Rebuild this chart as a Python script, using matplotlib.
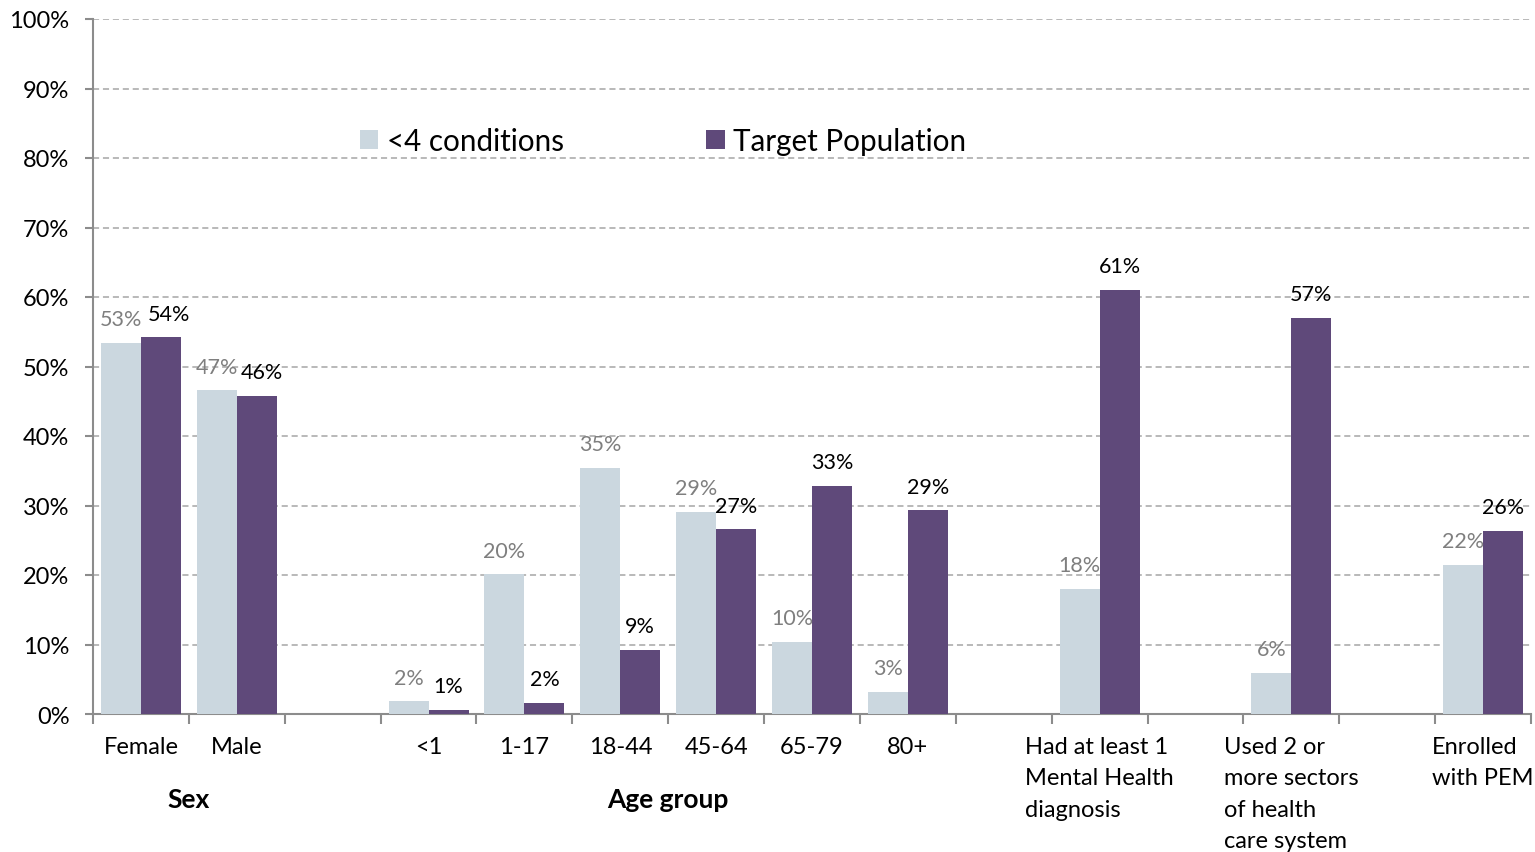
import matplotlib.pyplot as plt
import numpy as np

plt.rcParams['font.family'] = ['Lato', 'DejaVu Sans']

# categories (blank strings are spacer slots between groups)
categories = ["Female", "Male", "",
              "<1", "1-17", "18-44", "45-64", "65-79", "80+", "",
              "Had at least 1\nMental Health\ndiagnosis", "",
              "Used 2 or\nmore sectors\nof health\ncare system", "",
              "Enrolled\nwith PEM"]
under4 = [53.4, 46.6, None, 1.8, 20.1, 35.4, 29.1, 10.4, 3.2, None, 18.0, None, 5.9, None, 21.5]
target = [54.2, 45.8, None, 0.6, 1.6, 9.2, 26.6, 32.8, 29.3, None, 61.0, None, 57.0, None, 26.4]
group_names = ["Sex", "Age group"]
group_pos = [0.5, 5.5]

c_light = "#CBD7DF"
c_purple = "#5F497A"
spine_c = "#8C8C8C"


def ve():
    fig = plt.figure(figsize=(15.35, 8.53), dpi=100)
    ax = fig.add_axes([93 / 1535, 1 - 715 / 853, (1531 - 93) / 1535, (715 - 20) / 853])

    x = np.arange(len(categories))
    w = 0.417
    idx = [i for i in x if under4[i] is not None]
    a = [under4[i] for i in idx]
    b = [target[i] for i in idx]
    xi = np.array(idx)
    ax.bar(xi - w / 2, a, w, color=c_light, label="<4 conditions", zorder=3)
    ax.bar(xi + w / 2, b, w, color=c_purple, label="Target Population", zorder=3)

    for xx, v in zip(xi, a):
        ax.annotate(f"{v:.0f}%", (xx - w / 2, v), xytext=(0, 17), textcoords="offset points",
                    ha="center", va="center", fontsize=15.5, color="#7F7F7F", zorder=4)
    # the sex labels sit a bit to the right so they don't run into the grey ones
    nudge = [6, 4] + [0] * (len(xi) - 2)
    for xx, v, dx in zip(xi, b, nudge):
        ax.annotate(f"{v:.0f}%", (xx + w / 2, v), xytext=(dx, 17), textcoords="offset points",
                    ha="center", va="center", fontsize=15.5, color="black", zorder=4)

    ax.set_xlim(-0.5, len(categories) - 0.5)
    ax.set_ylim(0, 100)
    ax.set_yticks(np.arange(0, 101, 10))
    ax.set_yticklabels([f"{t}%" for t in range(0, 101, 10)], fontsize=17)
    ax.yaxis.grid(True, linestyle=(0, (4, 2.5)), color="#A6A6A6", linewidth=1.1, zorder=0)

    ax.set_xticks(np.arange(len(categories) + 1) - 0.5)
    ax.set_xticklabels([])
    ax.set_xticks(x, minor=True)
    ax.set_xticklabels(categories, minor=True, fontsize=17, multialignment="left",
                       va="top", linespacing=1.6)
    ax.tick_params(axis="x", which="minor", length=0, pad=16)
    ax.tick_params(axis="x", which="major", length=7, width=1.5, color=spine_c)
    ax.tick_params(axis="y", length=6, width=1.5, color=spine_c, pad=11)

    for s in ["top", "right"]:
        ax.spines[s].set_visible(False)
    for s in ["left", "bottom"]:
        ax.spines[s].set_color(spine_c)
        ax.spines[s].set_linewidth(1.5)

    for name, p in zip(group_names, group_pos):
        ax.text(p, -12.2, name, transform=ax.transData,
                ha="center", va="center", fontsize=19, fontweight="bold")

    ax.legend(loc="center left", bbox_to_anchor=(360 / 1535, 1 - 142 / 853),
              bbox_transform=fig.transFigure, ncol=2, frameon=False, fontsize=21.3,
              handlelength=0.62, handleheight=0.62, handletextpad=0.3,
              columnspacing=4.8, borderpad=0, borderaxespad=0)

    fig.savefig("out.png", dpi=100)


ve()
